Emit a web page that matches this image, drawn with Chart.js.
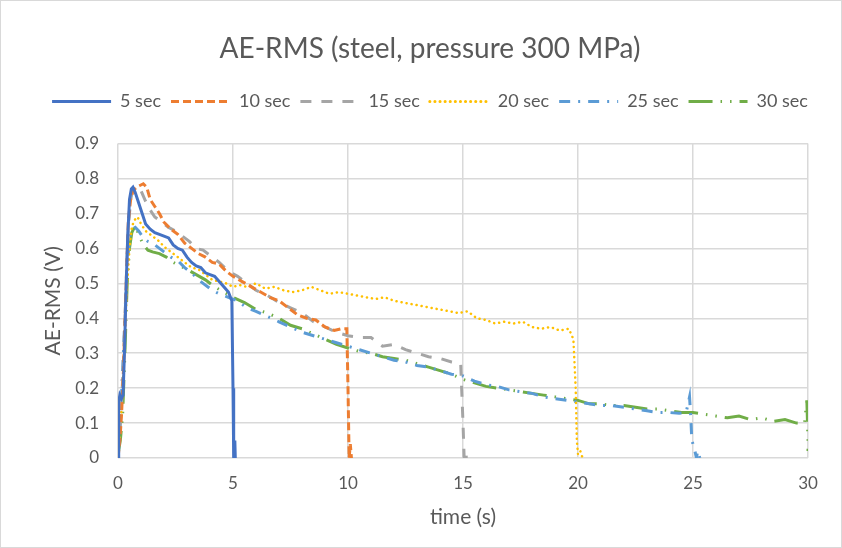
<!DOCTYPE html>
<html>
<head>
<meta charset="utf-8">
<script src="https://cdn.jsdelivr.net/npm/chart.js@4"></script>
<style>
  html, body { margin: 0; padding: 0; background: #fff; }
  #wrap { width: 840px; height: 546px; border: 1px solid #d9d9d9; }
</style>
</head>
<body>
<div id="wrap"><canvas id="chart" width="840" height="546"></canvas></div>
<script>
// series labels
const labels = ['5 sec', '10 sec', '15 sec', '20 sec', '25 sec', '30 sec']

// 5 sec
const t5 = [0, 0.03, 0.08, 0.15, 0.22, 0.28, 0.35, 0.42, 0.5, 0.58, 0.65, 0.75, 0.9, 1.05, 1.2, 1.4, 1.6, 1.8, 2.0, 2.2, 2.4, 2.6, 2.8, 3.0, 3.2, 3.4, 3.6, 3.8, 4.0, 4.2, 4.4, 4.6, 4.8, 4.95, 5.0, 5.03, 5.08, 5.1, 5.12]
const v5 = [0, 0.16, 0.18, 0.17, 0.18, 0.3, 0.48, 0.63, 0.74, 0.77, 0.775, 0.76, 0.73, 0.70, 0.67, 0.655, 0.645, 0.64, 0.635, 0.63, 0.61, 0.60, 0.595, 0.575, 0.56, 0.55, 0.545, 0.53, 0.525, 0.52, 0.505, 0.49, 0.475, 0.45, 0.2, 0, 0.05, 0, 0]

// 10 sec
const t10 = [0, 0.08, 0.15, 0.22, 0.3, 0.38, 0.45, 0.55, 0.65, 0.8, 0.95, 1.1, 1.25, 1.4, 1.6, 1.8, 2.0, 2.3, 2.6, 2.9, 3.2, 3.5, 3.8, 4.1, 4.4, 4.7, 5.0, 5.4, 5.8, 6.2, 6.6, 7.0, 7.4, 7.8, 8.2, 8.6, 9.0, 9.4, 9.7, 9.95, 10.0, 10.05, 10.1, 10.15]
const v10 = [0, 0.05, 0.12, 0.22, 0.38, 0.55, 0.68, 0.74, 0.765, 0.775, 0.78, 0.785, 0.775, 0.74, 0.72, 0.70, 0.675, 0.655, 0.64, 0.615, 0.60, 0.585, 0.575, 0.56, 0.555, 0.535, 0.52, 0.505, 0.49, 0.475, 0.46, 0.45, 0.43, 0.41, 0.40, 0.395, 0.375, 0.365, 0.37, 0.37, 0.2, 0, 0.04, 0]

// 15 sec
const t15 = [0, 0.08, 0.15, 0.22, 0.3, 0.38, 0.45, 0.55, 0.65, 0.8, 1.0, 1.2, 1.4, 1.6, 1.9, 2.2, 2.5, 2.8, 3.1, 3.4, 3.7, 4.0, 4.4, 4.8, 5.2, 5.6, 6.0, 6.5, 7.0, 7.5, 8.0, 8.5, 9.0, 9.5, 10.0, 10.5, 11.0, 11.5, 12.0, 12.5, 13.0, 13.5, 14.0, 14.5, 14.9, 15.0, 15.05, 15.1, 15.15]
const v15 = [0.02, 0.08, 0.15, 0.25, 0.4, 0.55, 0.66, 0.74, 0.77, 0.775, 0.765, 0.735, 0.71, 0.69, 0.675, 0.66, 0.65, 0.635, 0.62, 0.60, 0.595, 0.58, 0.56, 0.535, 0.52, 0.50, 0.48, 0.465, 0.445, 0.43, 0.415, 0.39, 0.375, 0.36, 0.35, 0.345, 0.345, 0.32, 0.325, 0.31, 0.30, 0.29, 0.285, 0.275, 0.27, 0.1, 0, 0.02, 0]

// 20 sec
const t20 = [0, 0.1, 0.2, 0.3, 0.4, 0.5, 0.6, 0.7, 0.85, 1.0, 1.2, 1.4, 1.6, 1.8, 2.0, 2.3, 2.6, 2.9, 3.2, 3.5, 3.8, 4.1, 4.4, 4.7, 5.0, 5.3, 5.6, 6.0, 6.4, 6.8, 7.2, 7.6, 8.0, 8.4, 8.8, 9.2, 9.6, 10.0, 10.4, 10.8, 11.2, 11.6, 12.0, 12.4, 12.8, 13.2, 13.6, 14.0, 14.4, 14.8, 15.2, 15.6, 16.0, 16.4, 16.8, 17.2, 17.6, 18.0, 18.4, 18.8, 19.2, 19.6, 19.8, 19.9, 19.95, 20.0, 20.1, 20.2]
const v20 = [0, 0.08, 0.2, 0.35, 0.5, 0.6, 0.66, 0.68, 0.69, 0.67, 0.65, 0.64, 0.63, 0.62, 0.605, 0.59, 0.575, 0.56, 0.545, 0.54, 0.525, 0.51, 0.505, 0.50, 0.49, 0.495, 0.49, 0.50, 0.485, 0.49, 0.48, 0.475, 0.48, 0.49, 0.48, 0.47, 0.475, 0.47, 0.465, 0.46, 0.455, 0.46, 0.45, 0.445, 0.44, 0.435, 0.43, 0.425, 0.42, 0.415, 0.42, 0.40, 0.395, 0.385, 0.39, 0.385, 0.39, 0.375, 0.37, 0.375, 0.365, 0.37, 0.34, 0.2, 0.05, 0.01, 0.02, 0]

// 25 sec
const t25 = [0, 0.1, 0.2, 0.3, 0.4, 0.5, 0.6, 0.75, 0.9, 1.1, 1.3, 1.5, 1.7, 2.0, 2.3, 2.6, 2.9, 3.2, 3.5, 3.8, 4.1, 4.4, 4.8, 5.2, 5.6, 6.0, 6.5, 7.0, 7.5, 8.0, 8.5, 9.0, 9.5, 10.0, 10.5, 11.0, 11.5, 12.0, 12.5, 13.0, 13.5, 14.0, 14.5, 15.0, 15.5, 16.0, 16.5, 17.0, 17.5, 18.0, 18.5, 19.0, 19.5, 20.0, 20.5, 21.0, 21.5, 22.0, 22.5, 23.0, 23.5, 24.0, 24.4, 24.7, 24.85, 24.9, 24.95, 25.05, 25.15, 25.2, 25.3]
const v25 = [0, 0.1, 0.25, 0.4, 0.55, 0.63, 0.655, 0.66, 0.65, 0.63, 0.62, 0.615, 0.605, 0.59, 0.575, 0.565, 0.545, 0.53, 0.51, 0.495, 0.48, 0.47, 0.46, 0.45, 0.43, 0.42, 0.405, 0.39, 0.375, 0.36, 0.35, 0.34, 0.33, 0.32, 0.31, 0.30, 0.29, 0.28, 0.275, 0.265, 0.26, 0.25, 0.24, 0.235, 0.22, 0.21, 0.205, 0.195, 0.19, 0.185, 0.175, 0.17, 0.165, 0.16, 0.155, 0.15, 0.15, 0.145, 0.14, 0.135, 0.13, 0.13, 0.128, 0.13, 0.175, 0.12, 0.05, 0.03, 0, 0.02, 0]

// 30 sec
const t30 = [0, 0.1, 0.2, 0.3, 0.4, 0.5, 0.6, 0.75, 0.9, 1.1, 1.3, 1.5, 1.8, 2.1, 2.4, 2.7, 3.0, 3.4, 3.8, 4.2, 4.6, 5.0, 5.5, 6.0, 6.5, 7.0, 7.5, 8.0, 8.5, 9.0, 9.5, 10.0, 10.5, 11.0, 11.5, 12.0, 12.5, 13.0, 13.5, 14.0, 14.5, 15.0, 15.5, 16.0, 16.5, 17.0, 17.5, 18.0, 18.5, 19.0, 19.5, 20.0, 20.5, 21.0, 21.5, 22.0, 22.5, 23.0, 23.5, 24.0, 24.5, 25.0, 25.5, 26.0, 26.5, 27.0, 27.5, 28.0, 28.5, 29.0, 29.5, 29.85, 29.95, 30.0, 30.0]
const v30 = [0.01, 0.05, 0.12, 0.3, 0.5, 0.6, 0.645, 0.665, 0.64, 0.61, 0.595, 0.59, 0.585, 0.575, 0.56, 0.55, 0.54, 0.525, 0.51, 0.49, 0.475, 0.46, 0.445, 0.425, 0.415, 0.40, 0.38, 0.37, 0.355, 0.34, 0.325, 0.315, 0.305, 0.30, 0.29, 0.285, 0.28, 0.27, 0.26, 0.25, 0.24, 0.225, 0.215, 0.205, 0.20, 0.195, 0.19, 0.185, 0.18, 0.175, 0.17, 0.165, 0.155, 0.155, 0.15, 0.15, 0.145, 0.14, 0.14, 0.135, 0.13, 0.13, 0.125, 0.12, 0.115, 0.12, 0.11, 0.115, 0.105, 0.11, 0.1, 0.1, 0.165, 0.05, 0.02]

const xTicks = [0, 5, 10, 15, 20, 25, 30]
const yTicks = [0, 0.1, 0.2, 0.3, 0.4, 0.5, 0.6, 0.7, 0.8, 0.9]

const times = [t5, t10, t15, t20, t25, t30]
const values = [v5, v10, v15, v20, v25, v30]
const colors = ['#4472C4', '#ED7D31', '#A5A5A5', '#FFC000', '#5B9BD5', '#70AD47']
const dashes = [[], [8, 4], [11, 10], [0.1, 5], [11, 8, 2, 8], [24, 8, 1.5, 8, 1.5, 8]]
const caps = ['butt', 'butt', 'butt', 'round', 'butt', 'butt']

const font = 'Lato, "Liberation Sans", sans-serif'
const grey = '#595959'
const gridColor = '#d9d9d9'

const datasets = labels.map((label, i) => ({
  label,
  data: times[i].map((t, j) => ({ x: t, y: values[i][j] })),
  borderColor: colors[i],
  backgroundColor: colors[i],
  borderWidth: i === 3 ? 2.5 : 3,
  borderDash: dashes[i],
  borderCapStyle: caps[i],
  pointRadius: 0,
  pointStyle: 'line',
  tension: 0,
}))

// empty boxes that only take up room, to place the plot area like the original
const spacer = (pos, size) => ({
  type: 'linear',
  position: pos,
  display: true,
  grid: { display: false },
  border: { display: false },
  ticks: { display: false },
  afterFit: s => {
    if (pos === 'top') s.height = size
    else s.width = size
  },
})

const ctx = document.getElementById('chart').getContext('2d')
new Chart(ctx, {
  type: 'line',
  data: { datasets },
  options: {
    responsive: false,
    animation: false,
    layout: { padding: { left: 18, right: 0, top: 0, bottom: 0 } },
    plugins: {
      title: {
        display: true,
        text: 'AE-RMS (steel, pressure 300 MPa)',
        color: grey,
        font: { family: font, size: 28, weight: 'normal' },
        padding: { top: 31, bottom: 17 },
      },
      legend: {
        position: 'top',
        labels: {
          color: grey,
          font: { family: font, size: 18 },
          usePointStyle: true,
          pointStyleWidth: 59,
          boxHeight: 3,
          padding: 10,
          // point style labels lose the dash, so put it back from the dataset
          generateLabels: chart => Chart.defaults.plugins.legend.labels.generateLabels(chart).map(item => ({
            ...item,
            lineDash: dashes[item.datasetIndex],
            lineCap: caps[item.datasetIndex],
            lineWidth: 3,
            strokeStyle: colors[item.datasetIndex],
          })),
        },
      },
      tooltip: { enabled: false },
    },
    scales: {
      x: {
        type: 'linear',
        min: 0,
        max: 30,
        afterBuildTicks: s => { s.ticks = xTicks.map(v => ({ value: v })) },
        afterFit: s => { s.height = 89 },
        grid: { color: gridColor, lineWidth: 1.5, drawTicks: false },
        border: { display: false },
        ticks: { color: grey, font: { family: font, size: 17 }, padding: 15 },
        title: { display: true, text: 'time (s)', color: grey, font: { family: font, size: 21 }, padding: { bottom: 17 } },
      },
      y: {
        min: 0,
        max: 0.9,
        afterBuildTicks: s => { s.ticks = yTicks.map(v => ({ value: v })) },
        afterFit: s => { s.width = 99 },
        grid: { color: gridColor, lineWidth: 1.5, drawTicks: false },
        border: { display: false },
        ticks: { color: grey, font: { family: font, size: 17 }, padding: 19, callback: v => String(+v.toFixed(1)) },
        title: { display: true, text: 'AE-RMS (V)', color: grey, font: { family: font, size: 21 }, padding: { top: 22 } },
      },
      top: spacer('top', 23),
      right: spacer('right', 33),
    },
  },
})
</script>
</body>
</html>
